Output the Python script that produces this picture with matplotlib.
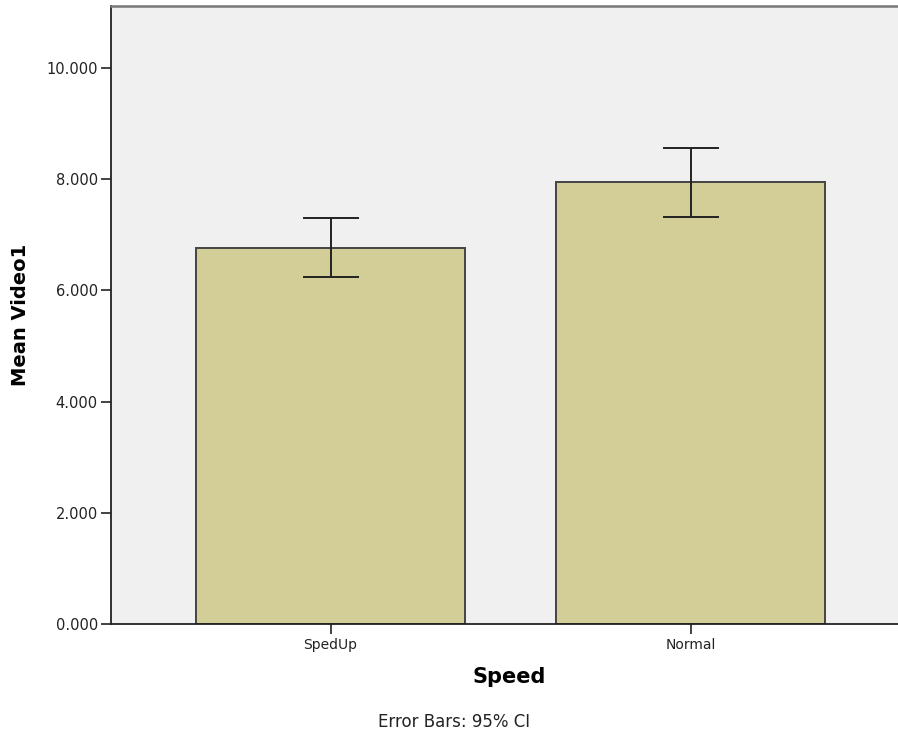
import matplotlib.pyplot as plt

# values
speeds = ["SpedUp", "Normal"]
means = [6.768, 7.944]
ci_low = [6.241, 7.315]
ci_high = [7.297, 8.567]
ytick_values = [0, 2, 4, 6, 8, 10]


def plots():
    fig = plt.figure(figsize=(8.98, 7.33), dpi=100)
    ax = fig.add_axes([111 / 898, 109 / 733, 787 / 898, 618 / 733])
    ax.set_facecolor("#f0f0f0")

    x = list(range(len(speeds)))
    yerr = [[m - lo for m, lo in zip(means, ci_low)],
            [hi - m for m, hi in zip(means, ci_high)]]
    ax.bar(x, means, width=0.747, color="#d3ce98", edgecolor="#444444", linewidth=1.4, zorder=2)
    ax.errorbar(x, means, yerr=yerr, fmt="none", ecolor="#222222", elinewidth=1.4,
                capsize=20, capthick=1.4, zorder=3)

    ax.set_xlim(-0.61, 1.576)
    ax.set_ylim(0, 11.115)
    ax.set_xticks(x)
    ax.set_xticklabels(speeds, fontsize=10)
    ax.set_yticks(ytick_values)
    ax.set_yticklabels(["%.3f" % v for v in ytick_values], fontsize=10.5)
    ax.tick_params(axis="y", length=7.5, width=1.2, color="#222222", labelcolor="#222222", pad=2)
    ax.tick_params(axis="x", length=7, width=1.2, color="#222222", labelcolor="#222222", pad=3)

    ax.spines["right"].set_visible(False)
    ax.spines["left"].set_color("#222222")
    ax.spines["left"].set_linewidth(1.3)
    ax.spines["bottom"].set_color("#222222")
    ax.spines["bottom"].set_linewidth(1.3)
    ax.spines["top"].set_color("#777777")
    ax.spines["top"].set_linewidth(1.8)

    ax.set_ylabel("Mean Video1", fontsize=14, fontweight="bold", labelpad=12)
    ax.set_xlabel("Speed", fontsize=15, fontweight="bold")
    ax.xaxis.set_label_coords((509 - 111) / 787, -(677 - 624) / 618, transform=ax.transAxes)
    ax.xaxis.label.set_va("center")
    fig.text(454 / 898, 1 - 722 / 733, "Error Bars: 95% CI", fontsize=12,
             ha="center", va="center", color="#222222")

    fig.savefig("out.png", dpi=100)


if __name__ == "__main__":
    plots()
